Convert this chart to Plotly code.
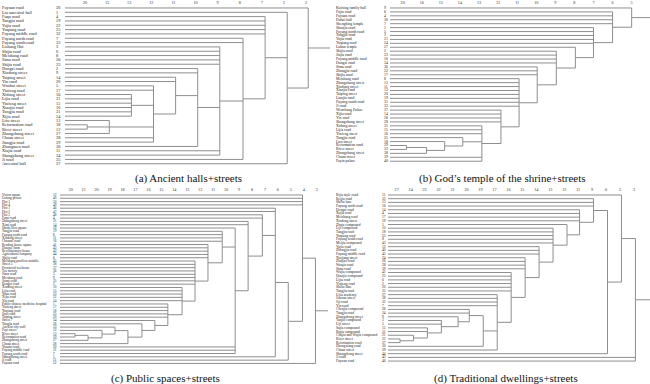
import plotly.graph_objects as go

W, H = 650, 384

# ---------------- (a) Ancient halls + streets ----------------
A_NAMES = ["Fuyuan road", "Liu ancestral hall", "Fuqu road", "Tangjia road", "Yujia road",
           "Yuqiang road", "Fuyang middle road", "Fuyang north road", "Fuyang south road",
           "Lishang Hui", "Shijia road", "Meishang road", "Sima road", "Shijia road",
           "Dongzi road", "Xiadong street", "Taiping street", "Yin road", "Wushui street",
           "Yinfeng road", "Xidong street", "Lijia road", "Yinfeng street", "Xiaojia road",
           "Tangjia road", "Xijia road", "Liru street", "Reformation road", "River street",
           "Zhangzhong street", "Chuan street", "Jiangjia road", "Zhongmen road",
           "Xiajia road", "Shangzhong street", "Ji road", "Ancestral hall"]
A_IDS = [36, 1, 4, 19, 22, 25, 32, 7, 33, 3, 6, 8, 20, 23, 2, 9, 14, 26, 5, 17, 10, 21,
         15, 16, 31, 24, 13, 18, 12, 27, 28, 29, 30, 11, 34, 35, 37]
A_TICKS = ["20", "15", "13", "12", "11", "10", "9", "8", "7", "3", "2"]
A_C1 = (0.1, [28, 29])
A_C2 = (1.1, [27, A_C1, 30])
A_CA = (2.1, [21, 22, 23, 24, 25, 26])
A_CB = (3.1, [19, 20, A_CA, A_C2, 31, 32])
A_CD = (4.1, [17, 18, A_CB])
A_CE = (5.1, [15, 16, A_CD, 33])
A_CF = (6.1, [10, 11, 12, 13, 14, A_CE, 34, 35])
A_CG = (7.15, [8, 9, A_CF, 36])
A_CH = (8.15, [3, 4, 5, 6, 7, A_CG])
A_CI = (9.15, [2, A_CH, 37])
A_TREE = (10.1, [1, A_CI])

# ---------------- (b) God's temple of the shrine + streets ----------------
B_NAMES = ["Kuixing family hall", "Fujia road", "Fuyuan road", "Dahui hall", "Shengbing temple",
           "Shaojia road", "Fuyang north road", "Tongjia road", "Yujia road", "Yuqiang road",
           "Luban temple", "Shijia road", "Jiajia road", "Fuyang middle road", "Dongzi road",
           "Sima road", "Zhangjia road", "Shijia road", "Meishang road", "Zhangzhong street",
           "Xiadong street", "Xiaojia road", "Taiping street", "Lianjia road",
           "Fuyang south road", "Ji road", "Wenchang Palace", "Xijia road", "Yin road",
           "Shangzhong street", "Xidong street", "Lijia road", "Yinfeng street", "Tongjia road",
           "Liru street", "Reformation road", "River street", "Zhangzhong street",
           "Chuan street", "Fayin palace"]
B_IDS = [9, 6, 4, 30, 7, 1, 5, 3, 21, 24, 27, 2, 23, 10, 34, 36, 22, 17, 8, 13, 11, 12, 20,
         19, 31, 32, 37, 14, 26, 28, 35, 15, 16, 25, 18, 29, 33, 38, 39, 40]
B_TICKS = ["20", "16", "15", "14", "13", "12", "11", "10", "9", "8", "7", "6", "5"]
B_C1 = (0.2, [36, 37])
B_C2 = (1.25, [B_C1, 38])
B_C3 = (2.2, [35, B_C2])
B_C4 = (3.15, [34, B_C3])
B_C5 = (4.15, [31, 32, 33, B_C4, 39, 40])
B_C6 = (5.15, [27, 28, 29, 30, B_C5])
B_C7 = (6.1, [19, 20, 21, 22, 23, 24, 25, 26, B_C6])
B_C8 = (7.05, [16, 17, 18, B_C7])
B_C9 = (8.05, [12, 13, 14, 15, B_C8])
B_C10 = (9.05, [11, B_C9])
B_C11 = (10.0, [6, 7, 8, 9, 10, B_C10])
B_C12 = (11.0, [2, 3, 4, 5, B_C11])
B_TREE = (12.0, [1, B_C12])

# ---------------- (c) Public spaces + streets ----------------
C_NAMES = ["Vision square", "Lufang prison", "Plot 3", "Plot 4", "Plot 1", "Plot 2", "Plot 5",
           "Fuqu road", "Zhangzhong street", "Ximi road", "Shishi Dou square", "Tangjia road",
           "Fuyang north road", "Xiadong street", "Chuanzi road", "Reading house square",
           "Huayue farm", "Revolutionary house", "Agricultural company", "Shijia road",
           "Meishang pavilion suitable", "Street 5", "Provincial tea house", "Tea factory",
           "Sima road", "Meishang road", "Sanqi road", "Dongzi road", "Xiadong street",
           "Lijia road", "Yuan road", "Xijia road", "Yin road",
           "Public chinese medicine hospital", "Yinfeng street", "Yuqiang road", "Jiaxi road",
           "Taiping street", "Street 7", "Tangjia road", "Ancient city wall", "Fuyi street",
           "River street", "Reformation road", "Zhangzhong street", "Chuan street",
           "Yuantai road", "Fuyang middle road", "Fuyang south road", "Shangzhong street",
           "Ji road", "Fuyuan road"]
C_IDS = [12, 40, 50, 49, 46, 47, 48, 4, 21, 14, 39, 19, 8, 11, 16, 41, 43, 42, 44, 6, 45, 38,
         37, 36, 3, 9, 35, 2, 10, 15, 23, 22, 24, 1, 17, 18, 25, 20, 34, 26, 33, 32, 13, 29,
         27, 28, 30, 31, 7, 5, 51, 52]
C_TICKS = ["30", "21", "20", "19", "18", "17", "16", "15", "14", "13", "12", "11", "10",
           "9", "8", "7", "6", "5", "4", "3"]
C_C1 = (0.33, [43, 44])
C_C2 = (1.34, [C_C1, 45])
C_C3 = (2.42, [42, C_C2])
C_C4 = (3.42, [41, C_C3])
C_C5 = (4.42, [C_C4, 46])
C_C6 = (5.5, [40, C_C5])
C_C7 = (6.5, [39, C_C6])
C_C8 = (7.5, [34, 35, 36, 37, 38, C_C7])
C_C9 = (8.6, [29, 30, 31, 32, 33, C_C8])
C_C10 = (9.6, [21, 22, 23, 24, 25, 26, 27, 28, C_C9])
C_C11 = (10.6, [16, 17, 18, 19, 20, C_C10])
C_C12 = (11.7, [12, 13, 14, 15, C_C11])
C_C13 = (12.7, [11, C_C12, 47, 48, 49])
C_C14 = (13.7, [9, 10, C_C13])
C_C15 = (14.8, [7, 8, C_C14])
C_C16 = (15.8, [5, 6, C_C15, 50])
C_C17 = (16.8, [C_C16, 51])
C_C18 = (17.9, [1, 2, 3, 4, C_C17])
C_TREE = (18.9, [C_C18, 52])

# ---------------- (d) Traditional dwellings + streets ----------------
D_NAMES = ["Bijia style road", "Beijia road", "Shiliu lane", "Fuyang north road", "Dongzi road",
           "Xujia road", "Meishang road", "Xiadong street", "Zhaju compound", "Liji compound",
           "Tangjia road", "Yuqiang road", "Fuyang south road", "Meijia compound", "Yujia road",
           "Zhongjia road", "Fuyang middle road", "Xinjiang street", "Zhujiao road",
           "Wanjia road", "Sima road", "Wujia compound", "Qianjia compound", "Lijia road",
           "Yinfeng road", "Shiliu lane", "Tangjia road", "Lijia academy", "Jiaoran street",
           "Jiji road", "Yin road", "Chenjia compound", "Tangjia road", "Zhangzhong street",
           "Tanjia compound", "Liji street", "Sujia compound", "Bujia compound",
           "Chujia and Wujia compound", "River street", "Reformation road", "Zhongxiang road",
           "Chuan street", "Shangzhong street", "Ji road", "Fuyuan road"]
D_IDS = [11, 33, 13, 16, 14, 4, 17, 19, 1, 10, 18, 23, 8, 43, 12, 40, 42, 24, 26, 28, 39, 41,
         25, 6, 2, 20, 35, 27, 38, 32, 7, 36, 34, 9, 3, 5, 15, 31, 21, 22, 37, 30, 29, 44, 45, 46]
D_TICKS = ["27", "24", "23", "22", "21", "20", "19", "17", "16", "15", "14", "13", "12",
           "11", "9", "6", "5", "3"]
D_C1 = (0.24, [40, 41])
D_C2 = (1.2, [39, D_C1])
D_C3 = (2.2, [37, 38, D_C2])
D_C4 = (3.2, [35, 36, D_C3])
D_C5 = (4.4, [34, D_C4])
D_C6 = (5.2, [32, 33, D_C5])
D_C7 = (6.2, [D_C6, 42])
D_C8 = (7.2, [28, 29, 30, 31, D_C7, 43])
D_C9 = (8.2, [22, 23, 24, 25, 26, 27, D_C8])
D_C10 = (9.2, [18, 19, 20, 21, D_C9])
D_C11 = (10.2, [15, 16, 17, D_C10])
D_C12 = (11.2, [10, 11, 12, 13, 14, D_C11])
D_C13 = (12.2, [9, D_C12])
D_C14 = (13.1, [5, 6, 7, 8, D_C13])
D_C15 = (14.1, [2, 3, 4, D_C14])
D_C16 = (15.1, [D_C15, 44])
D_C17 = (16.1, [1, D_C16])
D_TREE = (17.1, [D_C17, 45, 46])

# ---------------- geometry (pixels) ----------------
PANELS = [
    dict(names=A_NAMES, ids=A_IDS, ticks=A_TICKS, tree=A_TREE, x0=85, step=22.1, left=0, right=330,
         row0=6, sp=4.35, top=4, bottom=168, name_x=2, num_x=56, leaf_x=65, stub=330,
         title="(a) Ancient halls+streets", tx=188, ty=177, fs=4.3),
    dict(names=B_NAMES, ids=B_IDS, ticks=B_TICKS, tree=B_TREE, x0=402.7, step=19.08, left=330,
         right=650, row0=6, sp=3.95, top=4, bottom=168, name_x=336, num_x=384, leaf_x=390,
         stub=650, title="(b) God\u2019s temple of the shrine+streets", tx=502, ty=177, fs=3.8),
    dict(names=C_NAMES, ids=C_IDS, ticks=C_TICKS, tree=C_TREE, x0=70.7, step=12.95, left=0,
         right=330, row0=194, sp=3.32, top=192, bottom=368, name_x=2, num_x=53, leaf_x=60,
         stub=328, title="(c) Public spaces+streets", tx=165, ty=378, fs=3.4),
    dict(names=D_NAMES, ids=D_IDS, ticks=D_TICKS, tree=D_TREE, x0=396.7, step=13.96, left=330,
         right=650, row0=194, sp=3.71, top=192, bottom=368, name_x=336, num_x=382, leaf_x=388,
         stub=650, title="(d) Traditional dwellings+streets", tx=506, ty=378, fs=3.6),
]

LINE = "#8e8e8e"
SERIF = "Liberation Serif"

fig = go.Figure()
annotations = []
layout_axes = {}

for i, p in enumerate(PANELS, start=1):
    xa = "x" if i == 1 else f"x{i}"
    ya = "y" if i == 1 else f"y{i}"
    to_x = lambda px, p=p: (px - p["x0"]) / p["step"]
    leaf_x = to_x(p["leaf_x"])
    xs, ys = [], []

    def rec(node):
        if isinstance(node, int):
            return leaf_x, node - 1
        level, kids = node
        pts = [rec(k) for k in kids]
        for cx, cy in pts:
            xs.extend([cx, level, None]); ys.extend([cy, cy, None])
        lo = min(q[1] for q in pts); hi = max(q[1] for q in pts)
        xs.extend([level, level, None]); ys.extend([lo, hi, None])
        return level, (lo + hi) / 2

    rx, ry = rec(p["tree"])
    xs.extend([rx, to_x(p["stub"]), None]); ys.extend([ry, ry, None])

    fig.add_trace(go.Scatter(x=xs, y=ys, mode="lines", line=dict(color=LINE, width=1),
                             xaxis=xa, yaxis=ya, hoverinfo="skip", showlegend=False))

    n = len(p["names"])
    for k in range(n):
        annotations.append(dict(x=to_x(p["name_x"]), y=k, xref=xa, yref=ya, text=p["names"][k],
                                showarrow=False, xanchor="left", yanchor="middle",
                                borderpad=0, borderwidth=0,
                                font=dict(family=SERIF, size=p["fs"], color="#222")))
        annotations.append(dict(x=to_x(p["num_x"]), y=k, xref=xa, yref=ya, text=str(p["ids"][k]),
                                showarrow=False, xanchor="left", yanchor="middle",
                                borderpad=0, borderwidth=0,
                                font=dict(family=SERIF, size=p["fs"], color="#222")))
    annotations.append(dict(x=p["tx"] / W, y=1 - p["ty"] / H, xref="paper", yref="paper",
                            text=p["title"], showarrow=False, xanchor="center", yanchor="middle",
                            font=dict(family=SERIF, size=11, color="#111")))

    key_x = "xaxis" if i == 1 else f"xaxis{i}"
    key_y = "yaxis" if i == 1 else f"yaxis{i}"
    layout_axes[key_x] = dict(domain=[p["left"] / W, p["right"] / W],
                              range=[to_x(p["left"]), to_x(p["right"])],
                              side="top", anchor=ya, tickmode="array",
                              tickvals=list(range(len(p["ticks"]))), ticktext=p["ticks"],
                              tickfont=dict(family=SERIF, size=4.2, color="#333"),
                              ticks="", ticklabelstandoff=0, showgrid=False, zeroline=False,
                              showline=False, fixedrange=True)
    layout_axes[key_y] = dict(domain=[1 - p["bottom"] / H, 1 - p["top"] / H],
                              range=[(p["bottom"] - p["row0"]) / p["sp"], (p["top"] - p["row0"]) / p["sp"]],
                              anchor=xa, visible=False, fixedrange=True)

fig.update_layout(width=W, height=H, margin=dict(l=0, r=0, t=0, b=0),
                  paper_bgcolor="white", plot_bgcolor="white",
                  font=dict(family=SERIF),
                  annotations=annotations, showlegend=False, **layout_axes)

fig.write_html("out.html", config={"displayModeBar": False},
               post_script="document.body.style.margin='0';document.body.style.overflow='hidden';")
